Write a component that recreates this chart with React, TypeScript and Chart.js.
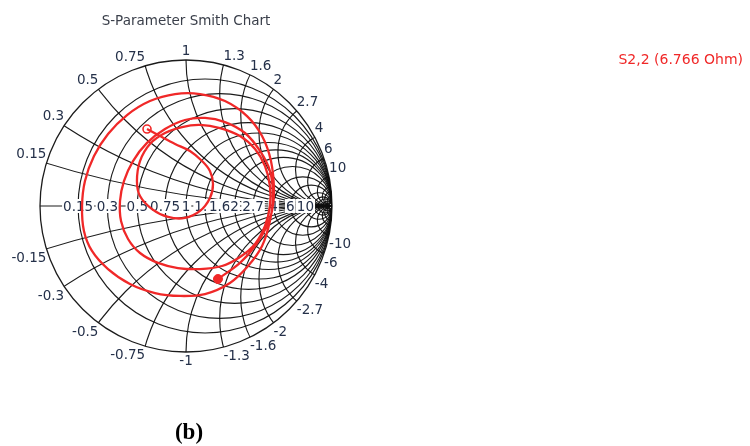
import React, { useEffect, useRef } from "react";
import { Chart, registerables } from "chart.js";

Chart.register(...registerables);

// ---- Data ----
const chartTitle = "S-Parameter Smith Chart";
const seriesName = "S2,2 (6.766 Ohm)";
const figureTag = "(b)";

// labelled grid values (normalised impedance)
const resistanceValues = [0.15, 0.3, 0.5, 0.75, 1, 1.3, 1.6, 2, 2.7, 4, 6, 10];
const resistanceLabels = ["0.15", "0.3", "0.5", "0.75", "1", "1.3", "1.6", "2", "2.7", "4", "6", "10"];
const reactanceValues = [0.15, 0.3, 0.5, 0.75, 1, 1.3, 1.6, 2, 2.7, 4, 6, 10];
const reactanceLabels = ["0.15", "0.3", "0.5", "0.75", "1", "1.3", "1.6", "2", "2.7", "4", "6", "10"];
// extra unlabelled grid values near the right edge
const extraGridValues = [15, 20, 30, 50];

// S2,2 trace, reflection coefficient (real, imaginary)
const traceRe = [
  -0.267, -0.178, -0.075, 0.027, 0.110, 0.164, 0.185, 0.164, 0.096, -0.007,
  -0.123, -0.233, -0.315, -0.336, -0.315, -0.247, -0.144, -0.027, 0.096, 0.233,
  0.370, 0.473, 0.541, 0.575, 0.575, 0.541, 0.473, 0.370, 0.247, 0.096,
  -0.055, -0.192, -0.315, -0.397, -0.445, -0.452, -0.425, -0.363, -0.267, -0.144,
  -0.007, 0.130, 0.267, 0.404, 0.507, 0.575, 0.596, 0.575, 0.521, 0.425,
  0.301, 0.130, -0.041, -0.212, -0.384, -0.534, -0.644, -0.699, -0.712, -0.692,
  -0.630, -0.534, -0.404, -0.247, -0.075, 0.096, 0.267, 0.418, 0.521, 0.582,
  0.603, 0.589, 0.555, 0.473, 0.370, 0.219,
];
const traceIm = [
  0.527, 0.479, 0.425, 0.377, 0.308, 0.240, 0.151, 0.055, -0.034, -0.082,
  -0.075, -0.021, 0.068, 0.171, 0.308, 0.425, 0.500, 0.541, 0.555, 0.534,
  0.479, 0.390, 0.274, 0.137, 0.000, -0.137, -0.260, -0.349, -0.411, -0.432,
  -0.425, -0.390, -0.322, -0.226, -0.103, 0.034, 0.171, 0.308, 0.432, 0.527,
  0.589, 0.603, 0.575, 0.500, 0.377, 0.240, 0.068, -0.103, -0.274, -0.411,
  -0.527, -0.603, -0.616, -0.596, -0.534, -0.432, -0.308, -0.171, 0.000, 0.171,
  0.342, 0.493, 0.623, 0.719, 0.767, 0.767, 0.719, 0.616, 0.479, 0.308,
  0.103, -0.034, -0.137, -0.274, -0.390, -0.500,
];

// ---- Styles ----
const RED = "#f02828";
const GRID = "rgba(15,15,15,0.95)";
const LABEL = "#243049";
const FONT = "DejaVu Sans, Verdana, sans-serif";

const smithPlugin = {
  id: "smithGrid",
  beforeDatasetsDraw(chart: any) {
    const { ctx } = chart;
    const xs = chart.scales.x;
    const ys = chart.scales.y;
    const px = (g: number) => xs.getPixelForValue(g);
    const py = (g: number) => ys.getPixelForValue(g);
    const unit = px(1) - px(0);
    const cx = px(0);
    const cy = py(0);

    ctx.save();
    ctx.beginPath();
    ctx.arc(cx, cy, unit, 0, Math.PI * 2);
    ctx.clip();
    ctx.strokeStyle = GRID;
    ctx.lineWidth = 1.15;
    const allR = [...resistanceValues, ...extraGridValues];
    for (const r of allR) {
      ctx.beginPath();
      ctx.arc(px(r / (r + 1)), cy, unit / (r + 1), 0, Math.PI * 2);
      ctx.stroke();
    }
    const allX = [...reactanceValues, ...extraGridValues];
    for (const xv of allX) {
      for (const s of [1, -1]) {
        ctx.beginPath();
        ctx.arc(px(1), py(s / xv), unit / xv, 0, Math.PI * 2);
        ctx.stroke();
      }
    }
    ctx.beginPath();
    ctx.moveTo(px(-1), cy);
    ctx.lineTo(px(1), cy);
    ctx.stroke();
    ctx.restore();

    // outer circle
    ctx.save();
    ctx.strokeStyle = GRID;
    ctx.lineWidth = 1.3;
    ctx.beginPath();
    ctx.arc(cx, cy, unit, 0, Math.PI * 2);
    ctx.stroke();

    // reactance labels around the rim
    ctx.font = `13.5px ${FONT}`;
    ctx.fillStyle = LABEL;
    reactanceValues.forEach((xv, i) => {
      for (const s of [1, -1]) {
        const xx = s * xv;
        const d = xx * xx + 1;
        const gr = (xx * xx - 1) / d;
        const gi = (2 * xx) / d;
        const ppx = px(gr);
        const ppy = py(gi);
        ctx.textAlign = Math.abs(gr) < 0.02 ? "center" : gr < 0 ? "right" : "left";
        ctx.textBaseline = s > 0 ? "bottom" : "top";
        const txt = (s < 0 ? "-" : "") + reactanceLabels[i];
        ctx.fillText(txt, ppx, ppy + (s > 0 ? -2 : 3));
      }
    });

    // resistance labels on the real axis
    ctx.textAlign = "center";
    ctx.textBaseline = "middle";
    resistanceValues.forEach((r, i) => {
      const g = (r - 1) / (r + 1);
      const lx = px(g);
      const w = ctx.measureText(resistanceLabels[i]).width;
      ctx.fillStyle = "#ffffff";
      ctx.fillRect(lx - w / 2 - 1, cy - 7, w + 2, 14);
      ctx.fillStyle = LABEL;
      ctx.fillText(resistanceLabels[i], lx, cy + 1);
    });
    ctx.restore();
  },
  afterDraw(chart: any) {
    const { ctx } = chart;
    const cx = chart.scales.x.getPixelForValue(0);
    ctx.save();
    ctx.font = `13.5px ${FONT}`;
    ctx.fillStyle = "#3a3f4a";
    ctx.textAlign = "center";
    ctx.textBaseline = "middle";
    ctx.fillText(chartTitle, cx, 21);

    ctx.font = `14px ${FONT}`;
    ctx.fillStyle = RED;
    ctx.textAlign = "right";
    ctx.fillText(seriesName, 743, 60);

    ctx.font = `bold 23px "Liberation Serif", "Times New Roman", serif`;
    ctx.fillStyle = "#000000";
    ctx.textAlign = "center";
    ctx.fillText(figureTag, cx + 3, 433);
    ctx.restore();
  },
};

export default function App() {
  const canvasRef = useRef<HTMLCanvasElement | null>(null);

  useEffect(() => {
    const canvas = canvasRef.current;
    if (!canvas) return;
    const points = traceRe.map((re, i) => ({ x: re, y: traceIm[i] }));
    const last = points.length - 1;
    const chart = new Chart(canvas, {
      type: "scatter",
      data: {
        datasets: [
          {
            label: seriesName,
            data: points,
            showLine: true,
            borderColor: RED,
            borderWidth: 2.3,
            pointRadius: 0,
            tension: 0.35,
            fill: false,
          },
          {
            label: "start",
            data: [points[0]],
            pointRadius: 4,
            pointBorderWidth: 1.6,
            pointBorderColor: RED,
            pointBackgroundColor: "#ffffff",
          },
          {
            label: "end",
            data: [points[last]],
            pointRadius: 4.5,
            pointBorderWidth: 1,
            pointBorderColor: RED,
            pointBackgroundColor: RED,
          },
        ],
      },
      options: {
        animation: false,
        responsive: false,
        maintainAspectRatio: false,
        layout: { padding: { left: 40, right: 418, top: 60, bottom: 94 } },
        plugins: {
          legend: { display: false },
          title: { display: false },
          tooltip: { enabled: false },
        },
        scales: {
          x: { type: "linear", min: -1, max: 1, display: false },
          y: { type: "linear", min: -1, max: 1, display: false },
        },
      },
      plugins: [smithPlugin],
    });
    return () => chart.destroy();
  }, []);

  return (
    <div style={{ position: "absolute", left: 0, top: 0, width: 750, height: 446, background: "#fff" }}>
      <canvas ref={canvasRef} width={750} height={446} style={{ width: 750, height: 446 }} />
    </div>
  );
}
